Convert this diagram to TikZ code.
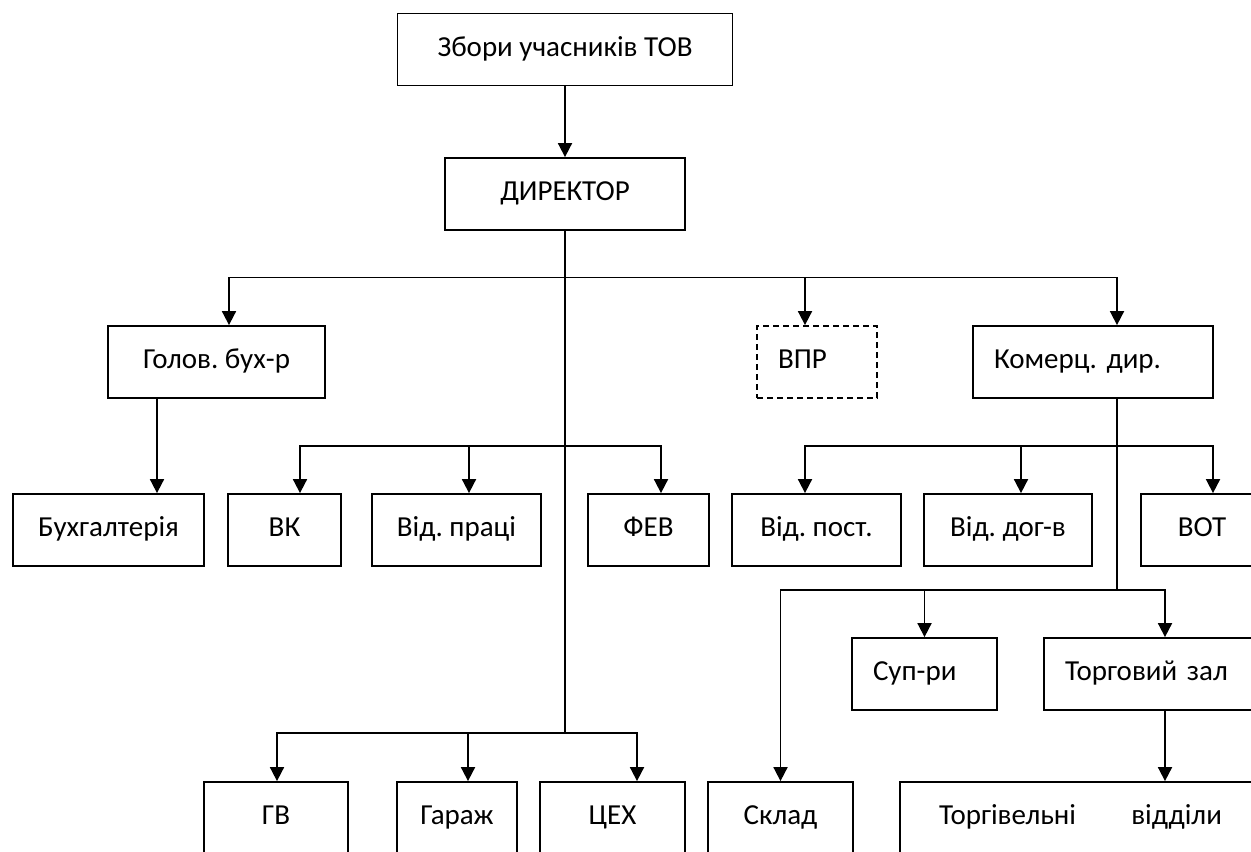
\documentclass[tikz,border=0pt]{standalone}
\usepackage{fontspec}
\setmainfont{Carlito}
\usepackage{tikz}
\usetikzlibrary{positioning, arrows.meta}
\frenchspacing

\begin{document}
\begin{tikzpicture}[
    x=0.5pt, y=-0.5pt,
    box/.style={
        draw,
        minimum height=36pt,
        inner sep=0pt,
        text height=10pt,
        text depth=3.5pt,
        align=center,
        font=\fontsize{14.5}{17}\selectfont,
        line width=0.9pt
    },
    lbox/.style={
        box,
        align=left,
        inner xsep=10.5pt
    },
    dbox/.style={
        lbox,
        dash pattern=on 3pt off 2pt
    },
    arrow/.style={
        -{Triangle[length=7pt, width=7pt]},
        line width=0.9pt
    },
    line/.style={
        line width=0.9pt
    }
]
\useasboundingbox (0,0) rectangle (1251,851);
\clip (0,0) rectangle (1251,851);

% Top
\node (top) at (565,49.5) [box, minimum width=167.5pt] {Збори учасників ТОВ};
\node (dir) at (565,194) [box, minimum width=120pt] {ДИРЕКТОР};

% Second level
\node (buh) at (216.5,362) [box, minimum width=108.5pt] {Голов. бух-р};
\node (vpr) at (817,362) [dbox, text width=39pt] {ВПР};
\node (kom) at (1093,362) [lbox, text width=99pt] {Комерц. дир.};

% Third level
\node (buhg) at (108.5,530) [box, minimum width=95.5pt] {Бухгалтерія};
\node (vk) at (284.5,530) [box, minimum width=56.5pt] {ВК};
\node (vidpr) at (456.5,530) [box, minimum width=84.5pt] {Від. праці};
\node (fev) at (648.5,530) [box, minimum width=60.5pt] {ФЕВ};
\node (vidpost) at (816.5,530) [box, minimum width=84.5pt] {Від. пост.};
\node (viddog) at (1008,530) [box, minimum width=84pt] {Від. дог-в};
\node (vot) at (1202,530) [box, minimum width=61pt] {ВОТ};

% Fourth level
\node (sup) at (924.5,674) [lbox, text width=51.5pt] {Суп-ри};
\node (tzal) at (1157,674) [lbox, text width=92pt] {Торговий зал};

% Bottom row
\node (gv) at (276,818) [box, minimum width=72pt] {ГВ};
\node (garazh) at (457,818) [box, minimum width=60pt] {Гараж};
\node (tseh) at (612.5,818) [box, minimum width=72.5pt] {ЦЕХ};
\node (sklad) at (780.5,818) [box, minimum width=72.5pt] {Склад};
\node (tviddil) at (1080.5,818) [lbox, inner xsep=19.5pt, text width=141.5pt] {Торгівельні \hfill відділи};

% Bus points
\coordinate (busA) at (565,277.5);
\coordinate (busB) at (565,446);
\coordinate (busC) at (565,733);
\coordinate (busD) at (1117,446);
\coordinate (busE) at (1117,590);

% Director
\draw [arrow] (top) -- (dir);
\draw [line] (dir.south) -- (busC);

\draw [arrow] (busA) -| ([xshift=6.25pt]buh.north);
\draw [arrow] (busA) -| ([xshift=12pt]kom.north);
\draw [arrow] ([xshift=-6pt]vpr.north |- busA) -- ([xshift=-6pt]vpr.north);

\draw [arrow] (busB) -| ([xshift=7.75pt]vk.north);
\draw [arrow] (busB) -| ([xshift=6.25pt]fev.north);
\draw [arrow] ([xshift=6.25pt]vidpr.north |- busB) -- ([xshift=6.25pt]vidpr.north);

\draw [arrow] (busC) -| ([xshift=0.5pt]gv.north);
\draw [arrow] (busC) -| ([xshift=12.25pt]tseh.north);
\draw [arrow] ([xshift=5.5pt]garazh.north |- busC) -- ([xshift=5.5pt]garazh.north);

% Chief accountant
\draw [arrow] ([xshift=-29.75pt]buh.south) -- ([xshift=-29.75pt]buh.south |- buhg.north);

% Commercial director
\draw [line] ([xshift=12pt]kom.south) -- (busE);
\draw [arrow] (busD) -| ([xshift=-5.75pt]vidpost.north);
\draw [arrow] (busD) -| ([xshift=5.5pt]vot.north);
\draw [arrow] ([xshift=6.5pt]viddog.north |- busD) -- ([xshift=6.5pt]viddog.north);

\draw [arrow] (busE) -| (sklad.north);
\draw [arrow] (busE) -| ([xshift=4pt]tzal.north);
\draw [arrow] (sup.north |- busE) -- (sup.north);

\draw [arrow] ([xshift=4pt]tzal.south) -- ([xshift=4pt]tzal.south |- tviddil.north);

\end{tikzpicture}
\end{document}
